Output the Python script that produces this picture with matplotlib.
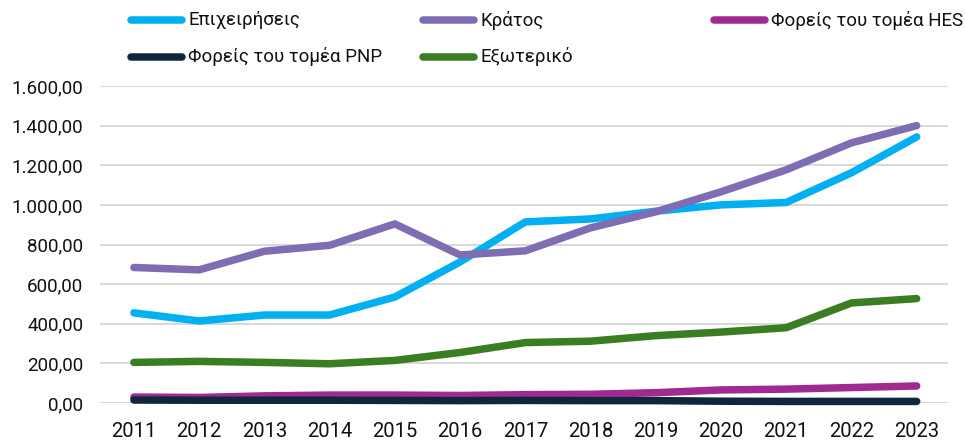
import matplotlib
matplotlib.use("Agg")
import matplotlib.pyplot as plt
from matplotlib.lines import Line2D
from matplotlib.ticker import FuncFormatter

plt.rcParams["font.family"] = ["Roboto", "DejaVu Sans"]

# ----------------------------
# Data
# ----------------------------
years = list(range(2011, 2024))
series_names = [
    "Επιχειρήσεις",
    "Κράτος",
    "Φορείς του τομέα HES",
    "Φορείς του τομέα PNP",
    "Εξωτερικό",
]
epixeiriseis = [455, 414, 444, 444, 535, 712, 914, 929, 968, 1000, 1012, 1162, 1343]
kratos = [684, 672, 766, 796, 904, 747, 768, 884, 965, 1066, 1177, 1313, 1400]
hes = [30, 28, 36, 40, 40, 38, 42, 44, 52, 66, 70, 78, 86]
pnp = [15, 14, 14, 14, 13, 12, 13, 12, 12, 9, 8, 8, 8]
exoteriko = [205, 210, 205, 198, 215, 255, 305, 312, 340, 358, 380, 505, 527]
colors = ["#00B0F0", "#7F6DB3", "#A12A90", "#10263F", "#3B7D23"]
yticks = [0, 200, 400, 600, 800, 1000, 1200, 1400, 1600]


def greek_fmt(v, pos):
    s = f"{v:,.2f}"
    return s.replace(",", "X").replace(".", ",").replace("X", ".")


W, H = 965, 443
fig = plt.figure(figsize=(W / 100, H / 100), dpi=100)
ax = fig.add_axes([100 / W, 1 - 403 / H, (948 - 100) / W, (403 - 86) / H])

all_series = [epixeiriseis, kratos, hes, pnp, exoteriko]
for vals, c in zip(all_series, colors):
    ax.plot(years, vals, color=c, lw=5.4, solid_capstyle="round",
            solid_joinstyle="round", clip_on=False, zorder=3)

ax.set_xlim(2010.48, 2023.48)
ax.set_ylim(0, 1600)
ax.set_yticks(yticks)
ax.set_xticks(years)
ax.yaxis.set_major_formatter(FuncFormatter(greek_fmt))
ax.grid(axis="y", color="#D9D9D9", lw=1.5, zorder=0)
ax.set_axisbelow(True)
for sp in ax.spines.values():
    sp.set_visible(False)
ax.tick_params(axis="both", length=0, colors="#111111")
ax.tick_params(axis="y", pad=12, labelsize=13.5)
ax.tick_params(axis="x", pad=14, labelsize=14.5)

# legend drawn by hand to match the uneven column placement
legend_pos = [(128, 20), (420, 20), (711, 20), (128, 57), (420, 57)]
for name, c, (px, py) in zip(series_names, colors, legend_pos):
    fy = 1 - py / H
    fig.add_artist(Line2D([(px + 3) / W, (px + 54) / W], [fy, fy], color=c,
                          lw=5.4, solid_capstyle="round",
                          transform=fig.transFigure))
    fig.text((px + 60) / W, fy, name, fontsize=13.5, va="center",
             ha="left", color="#111111")

fig.savefig("out.png", dpi=100)
